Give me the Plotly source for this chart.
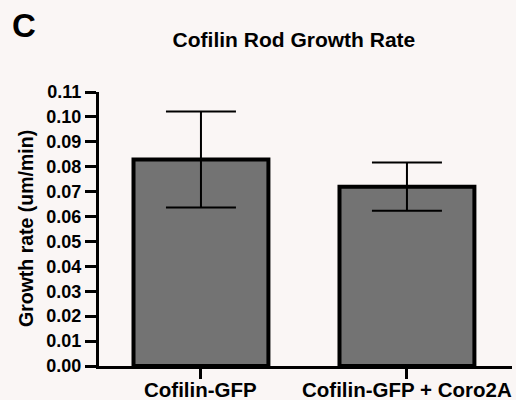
import plotly.graph_objects as go

categories = ["Cofilin-GFP", "Cofilin-GFP + Coro2A"]
growth_rate = [0.0829, 0.0720]
sem = [0.0193, 0.0097]
y_ticks = [round(i * 0.01, 2) for i in range(12)]

BG = "#FAF6F5"
FONT = "Liberation Sans, Arial, sans-serif"

fig = go.Figure()
fig.add_trace(go.Bar(
    x=categories, y=growth_rate, width=0.655,
    marker=dict(color="#737373", line=dict(color="black", width=4)),
    error_y=dict(type="data", array=sem, visible=True, color="black",
                 thickness=2, width=35),
))

annotations = [
    dict(text="Growth rate (um/min)", textangle=-90, xref="paper", yref="paper",
         x=(26 - 99) / 413, y=0.5, xanchor="center", yanchor="middle",
         showarrow=False, font=dict(size=19.5, weight="bold", family=FONT, color="black")),
    dict(text="C", xref="paper", yref="paper", x=(10 - 99) / 413, y=(366 - 25) / 274,
         xanchor="left", yanchor="middle", showarrow=False,
         font=dict(size=33, weight="bold", family=FONT, color="black")),
]
for cat in categories:
    annotations.append(dict(text=cat, x=cat, xref="x", yref="paper",
                            y=(366 - 389) / 274, xanchor="center", yanchor="middle",
                            showarrow=False,
                            font=dict(size=20.5, weight="bold", family=FONT, color="black")))

fig.update_layout(
    width=516, height=400,
    margin=dict(l=99, r=4, t=92, b=34, autoexpand=False),
    paper_bgcolor=BG, plot_bgcolor=BG,
    showlegend=False,
    font=dict(family=FONT, color="black"),
    title=dict(text="Cofilin Rod Growth Rate", xref="paper", x=0.472,
               xanchor="center", yref="container", y=0.902, yanchor="middle",
               font=dict(size=21, weight="bold", family=FONT, color="black")),
    xaxis=dict(range=[-0.495, 1.51], showline=True, linewidth=3, linecolor="black",
               ticks="outside", ticklen=10, tickwidth=3, tickcolor="black",
               showticklabels=False,
               showgrid=False, zeroline=False, automargin=False),
    yaxis=dict(range=[0, 0.11], tickvals=y_ticks, tickformat=".2f",
               showline=True, linewidth=3, linecolor="black",
               ticks="outside", ticklen=11, tickwidth=3, tickcolor="black",
               showgrid=False, zeroline=False, automargin=False,
               tickfont=dict(size=18, weight="bold", family=FONT, color="black")),
    annotations=annotations,
)

fig.write_html("out.html")
